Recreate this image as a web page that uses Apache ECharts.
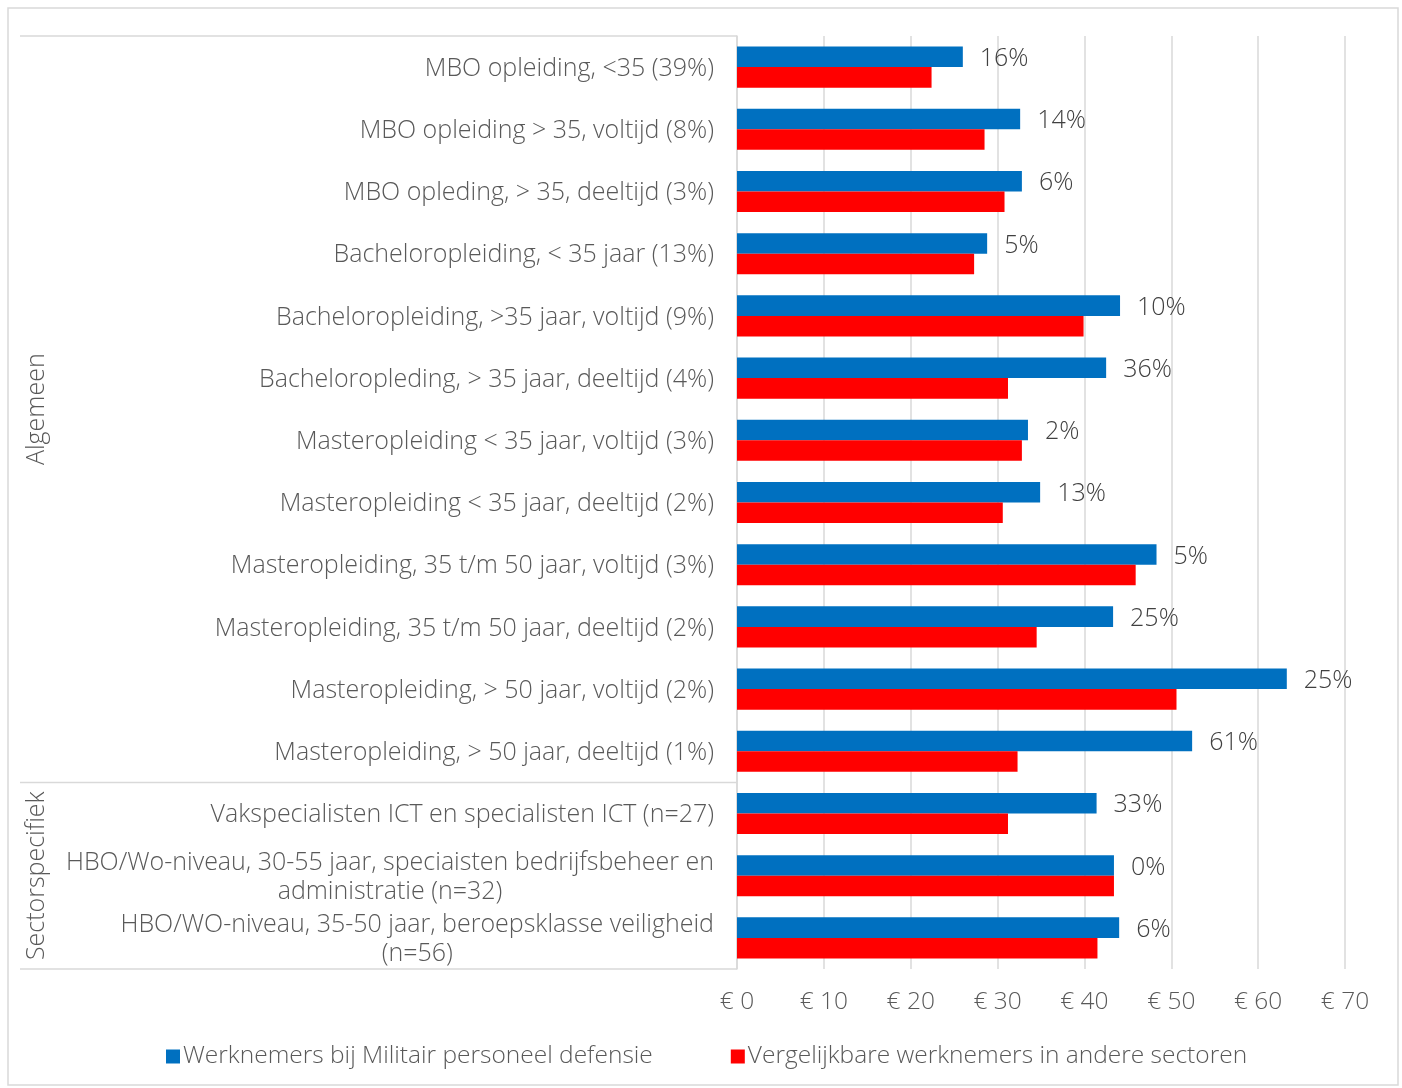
<!DOCTYPE html>
<html>
<head>
<meta charset="utf-8">
<script src="https://cdn.jsdelivr.net/npm/echarts@6/dist/echarts.min.js"></script>
<style>
  html, body { margin: 0; padding: 0; background: #fff; }
  #chart { width: 1402px; height: 1088px; }
</style>
</head>
<body>
<div id="chart"></div>
<script>
// Categorieën (van boven naar beneden)
const categories = [
  'MBO opleiding, <35 (39%)',
  'MBO opleiding > 35, voltijd (8%)',
  'MBO opleding, > 35, deeltijd (3%)',
  'Bacheloropleiding, < 35 jaar (13%)',
  'Bacheloropleiding, >35 jaar, voltijd (9%)',
  'Bacheloropleding, > 35 jaar, deeltijd (4%)',
  'Masteropleiding < 35 jaar, voltijd (3%)',
  'Masteropleiding < 35 jaar, deeltijd (2%)',
  'Masteropleiding, 35 t/m 50 jaar, voltijd (3%)',
  'Masteropleiding, 35 t/m 50 jaar, deeltijd (2%)',
  'Masteropleiding, > 50 jaar, voltijd (2%)',
  'Masteropleiding, > 50 jaar, deeltijd (1%)',
  'Vakspecialisten ICT en specialisten ICT (n=27)',
  'HBO/Wo-niveau, 30-55 jaar, speciaisten bedrijfsbeheer en\nadministratie (n=32)',
  'HBO/WO-niveau, 35-50 jaar, beroepsklasse veiligheid\n(n=56)'
];

// Uurloon in euro
const militair = [26.0, 32.6, 32.8, 28.8, 44.1, 42.5, 33.5, 34.9, 48.3, 43.3, 63.3, 52.4, 41.4, 43.4, 44.0];
const andere   = [22.4, 28.5, 30.8, 27.3, 39.9, 31.2, 32.8, 30.6, 45.9, 34.5, 50.6, 32.3, 31.2, 43.4, 41.5];

// Verschil defensie t.o.v. andere sectoren
const verschil = ['16%', '14%', '6%', '5%', '10%', '36%', '2%', '13%', '5%', '25%', '25%', '61%', '33%', '0%', '6%'];

const seriesNames = ['Werknemers bij Militair personeel defensie', 'Vergelijkbare werknemers in andere sectoren'];

// Groepen op de categorie-as (indexen van eerste en laatste categorie)
const groupNames = ['Algemeen', 'Sectorspecifiek'];
const groupFirst = [0, 12];
const groupLast = [11, 14];

// As-instellingen
const xMin = 0, xMax = 70, xStep = 10;

const FONT = '"Open Sans"';
const WEIGHT = 300;
const GREY = '#595959';
const LINE = '#d9d9d9';
const FS = 25;      // categorie- en waardelabels
const FS_SM = 24.5; // as en legenda

const chart = echarts.init(document.getElementById('chart'), null, { renderer: 'canvas' });

const option = {
  backgroundColor: '#ffffff',
  animation: false,
  textStyle: { fontFamily: FONT },
  grid: { left: 737, right: 57, top: 36, bottom: 119, containLabel: false },
  legend: {
    bottom: 14,
    left: 161,
    icon: 'rect',
    itemWidth: 14,
    itemHeight: 14,
    itemGap: 78,
    textStyle: { fontFamily: FONT, fontSize: FS_SM, color: GREY, fontWeight: WEIGHT, padding: [0, 0, 0, -2] },
    data: seriesNames
  },
  xAxis: {
    type: 'value',
    min: xMin,
    max: xMax,
    interval: xStep,
    axisLine: { show: false },
    axisTick: { show: false },
    splitLine: { lineStyle: { color: LINE, width: 1.5 } },
    axisLabel: {
      margin: 21,
      fontFamily: FONT,
      fontSize: FS_SM,
      fontWeight: WEIGHT,
      color: GREY,
      formatter: v => '€ ' + v
    }
  },
  yAxis: {
    type: 'category',
    inverse: true,
    data: categories,
    axisLine: { show: true, lineStyle: { color: LINE, width: 1.5 } },
    axisTick: { show: false },
    axisLabel: {
      interval: 0,
      hideOverlap: false,
      margin: 23,
      fontFamily: FONT,
      fontSize: FS,
      fontWeight: WEIGHT,
      color: GREY,
      lineHeight: 29,
      padding: [3, 0, 0, 0],
      formatter: v => v.indexOf('\n') >= 0
        ? v.split('\n').map(s => '{c|' + s + '}').join('\n')
        : v,
      rich: {
        c: { align: 'center', fontFamily: FONT, fontSize: FS, fontWeight: WEIGHT, color: GREY, lineHeight: 29 }
      }
    }
  },
  series: [
    {
      name: seriesNames[0],
      type: 'bar',
      data: militair,
      barGap: '0%',
      barCategoryGap: '34%',
      itemStyle: { color: '#0070C0' },
      label: {
        show: true,
        position: 'right',
        distance: 17,
        offset: [0, 2],
        fontFamily: FONT,
        fontSize: FS,
        fontWeight: WEIGHT,
        color: '#404040',
        formatter: p => verschil[p.dataIndex]
      }
    },
    {
      name: seriesNames[1],
      type: 'bar',
      data: andere,
      barGap: '0%',
      barCategoryGap: '34%',
      itemStyle: { color: '#FF0000' }
    }
  ]
};

chart.setOption(option);

// Groeplijnen en -titels links van de categorie-as
function drawGroups() {
  const y0 = chart.convertToPixel({ yAxisIndex: 0 }, 0);
  const y1 = chart.convertToPixel({ yAxisIndex: 0 }, 1);
  const band = y1 - y0;
  const axisX = chart.convertToPixel({ xAxisIndex: 0 }, xMin);
  const leftX = 20;
  const elements = [];

  // buitenrand
  elements.push({
    type: 'rect',
    shape: { x: 8, y: 8, width: 1390, height: 1077 },
    style: { fill: null, stroke: LINE, lineWidth: 1.5 },
    silent: true
  });

  const bounds = [];
  for (let g = 0; g < groupNames.length; g++) {
    const top = chart.convertToPixel({ yAxisIndex: 0 }, groupFirst[g]) - band / 2;
    const bottom = chart.convertToPixel({ yAxisIndex: 0 }, groupLast[g]) + band / 2;
    bounds.push(top, bottom);
    elements.push({
      type: 'text',
      x: 37,
      y: (top + bottom) / 2,
      rotation: Math.PI / 2,
      style: {
        text: groupNames[g],
        fontFamily: FONT,
        fontSize: FS,
        fontWeight: WEIGHT,
        fill: GREY,
        align: 'center',
        verticalAlign: 'middle'
      },
      silent: true
    });
  }
  const uniq = Array.from(new Set(bounds.map(b => Math.round(b * 2) / 2)));
  uniq.forEach(yy => {
    elements.push({
      type: 'line',
      shape: { x1: leftX, y1: yy, x2: axisX, y2: yy },
      style: { stroke: LINE, lineWidth: 1.5 },
      silent: true
    });
  });
  chart.setOption({ graphic: { elements } });
}
drawGroups();
</script>
</body>
</html>
